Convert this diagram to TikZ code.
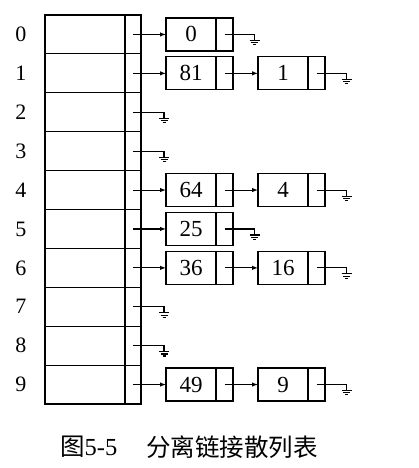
\documentclass[tikz,border=0pt]{standalone}
\usepackage{fontspec}
\setmainfont{Liberation Serif}
\newfontfamily\cjk{Noto Sans CJK SC}
\usetikzlibrary{arrows.meta,calc}
\tikzset{
  cell/.style={draw, line width=1.1pt, minimum height=38.9pt, inner sep=0pt, outer sep=0pt},
  val/.style={draw, line width=1.2pt, minimum width=50pt, minimum height=33pt, inner sep=0pt, outer sep=0pt, font=\fontsize{23}{23}\selectfont},
  ptr/.style={draw, line width=1.2pt, minimum width=17pt, minimum height=33pt, inner sep=0pt, outer sep=0pt},
  lnk/.style={line width=1.1pt, -{Latex[length=6pt,width=4.5pt]}},
  gl/.style={line width=1.1pt},
  idx/.style={font=\fontsize{22}{22}\selectfont, inner sep=0pt},
  captext/.style={anchor=west, inner sep=0pt, font=\fontsize{24.5}{24.5}\selectfont},
}
\newcommand\gndsym[1]{%
  \draw[gl] ($(#1)+(-5,0)$) -- ++(10,0);
  \draw[gl] ($(#1)+(-3.5,2.3)$) -- ++(7,0);
  \draw[gl] ($(#1)+(-1.5,4.3)$) -- ++(3,0);
}
\begin{document}
\begin{tikzpicture}[x=1pt,y=-1pt]
\useasboundingbox (0,0) rectangle (419,468);
% table
\foreach \i in {0,...,9}{
  \node[cell, minimum width=80pt] (r\i) at (85,{34.45+38.9*\i}) {};
  \node[cell, minimum width=16pt] (c\i) at (133,{34.45+38.9*\i}) {};
  \node[idx] (l\i) at (21,{34.45+38.9*\i}) {\i};
}
% first-level nodes
\foreach \i/\v in {0/0,1/81,4/64,5/25,6/36,9/49}{
  \node[val] (a\i) at (191,{34.45+38.9*\i}) {\v};
  \node[ptr] (pa\i) at (224.5,{34.45+38.9*\i}) {};
  \draw[lnk] (c\i.center) -- (a\i.west);
}
% second-level nodes
\foreach \i/\v in {1/1,4/4,6/16,9/9}{
  \node[val] (b\i) at (283,{34.45+38.9*\i}) {\v};
  \node[ptr] (pb\i) at (316.5,{34.45+38.9*\i}) {};
  \draw[lnk] (pa\i.center) -- (b\i.west);
}
% grounds from table
\foreach \i in {2,3,7,8}{
  \coordinate (g\i) at ($(c\i.center)+(31,6)$);
  \draw[gl] (c\i.center) -| (g\i);
  \gndsym{g\i}
}
% grounds from first-level
\foreach \i in {0,5}{
  \coordinate (ga\i) at ($(pa\i.center)+(30,6)$);
  \draw[gl] (pa\i.center) -| (ga\i);
  \gndsym{ga\i}
}
% grounds from second-level
\foreach \i in {1,4,6,9}{
  \coordinate (gb\i) at ($(pb\i.center)+(30,6)$);
  \draw[gl] (pb\i.center) -| (gb\i);
  \gndsym{gb\i}
}
% caption
\node[captext] (cap1) at (60,447) {{\cjk 图}5-5};
\node[captext] (cap2) at (146,447) {\cjk 分离链接散列表};
\end{tikzpicture}
\end{document}
